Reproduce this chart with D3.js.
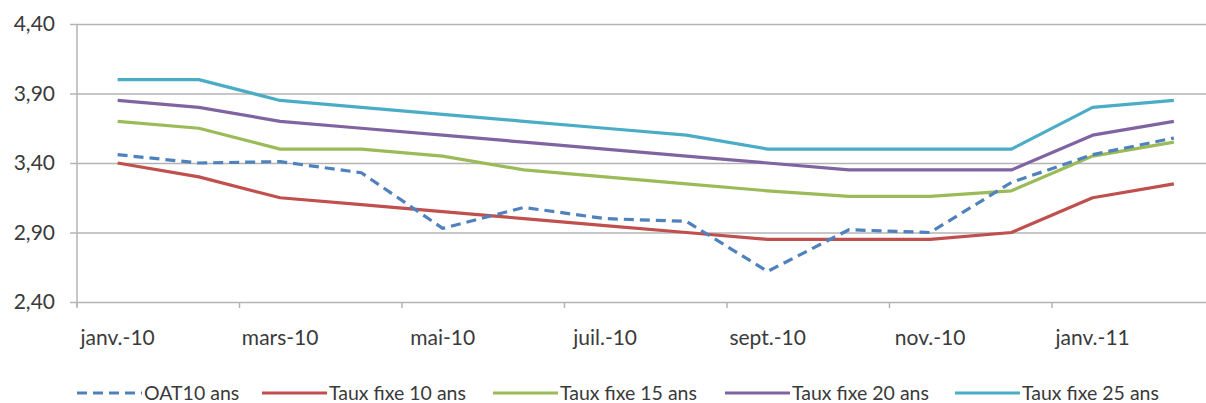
<!DOCTYPE html>
<html>
<head>
<meta charset="utf-8">
<style>
  html, body { margin: 0; padding: 0; background: #fff; }
  #chart { width: 1206px; height: 403px; overflow: hidden; }
  text { font-family: Lato, "Open Sans", sans-serif; fill: #3a3a3a; }
</style>
<script src="https://cdn.jsdelivr.net/npm/d3@7/dist/d3.min.js"></script>
</head>
<body>
<div id="chart"></div>
<script>
(function () {
  'use strict';

  // --- data ---------------------------------------------------------------
  const months = ['janv.-10', 'févr.-10', 'mars-10', 'avr.-10', 'mai-10', 'juin-10', 'juil.-10',
                  'août-10', 'sept.-10', 'oct.-10', 'nov.-10', 'déc.-10', 'janv.-11', 'févr.-11'];
  const yTicks = [2.4, 2.9, 3.4, 3.9, 4.4];

  const oat10   = [3.46, 3.40, 3.41, 3.33, 2.93, 3.08, 3.00, 2.98, 2.62, 2.92, 2.90, 3.26, 3.46, 3.58];
  const fixe10  = [3.40, 3.30, 3.15, 3.10, 3.05, 3.00, 2.95, 2.90, 2.85, 2.85, 2.85, 2.90, 3.15, 3.25];
  const fixe15  = [3.70, 3.65, 3.50, 3.50, 3.45, 3.35, 3.30, 3.25, 3.20, 3.16, 3.16, 3.20, 3.45, 3.55];
  const fixe20  = [3.85, 3.80, 3.70, 3.65, 3.60, 3.55, 3.50, 3.45, 3.40, 3.35, 3.35, 3.35, 3.60, 3.70];
  const fixe25  = [4.00, 4.00, 3.85, 3.80, 3.75, 3.70, 3.65, 3.60, 3.50, 3.50, 3.50, 3.50, 3.80, 3.85];

  const seriesNames = ['OAT10 ans', 'Taux fixe 10 ans', 'Taux fixe 15 ans', 'Taux fixe 20 ans', 'Taux fixe 25 ans'];

  const series = [
    { name: seriesNames[0], values: oat10,  color: '#4f81bd', dash: '10,6' },
    { name: seriesNames[1], values: fixe10, color: '#c0504d', dash: null },
    { name: seriesNames[2], values: fixe15, color: '#9bbb59', dash: null },
    { name: seriesNames[3], values: fixe20, color: '#8064a2', dash: null },
    { name: seriesNames[4], values: fixe25, color: '#4bacc6', dash: null }
  ];

  // --- layout -------------------------------------------------------------
  const W = 1206, H = 403;
  const left = 77, top = 24, bottom = 302;
  const bandW = 81.25;
  const gridColor = '#b4b4b4';
  const txtColor = '#3a3a3a';

  const svg = d3.select('#chart').append('svg')
    .attr('width', W).attr('height', H);

  const x = d3.scaleBand().domain(months).range([left, left + bandW * months.length]);
  const y = d3.scaleLinear().domain([2.4, 4.4]).range([bottom, top]);

  const fr = d3.formatLocale({ decimal: ',', thousands: ' ', grouping: [3], currency: ['', ' €'] });
  const fmt = fr.format('.2f');

  // grid horizontal + y axis
  svg.append('g')
    .attr('transform', `translate(${left},0)`)
    .call(d3.axisLeft(y).tickValues(yTicks).tickSize(-(x.range()[1] - left)).tickFormat(''))
    .call(sel => {
      sel.select('.domain').remove();
      sel.selectAll('line').attr('stroke', gridColor).attr('stroke-width', 1.5);
    });

  svg.append('g')
    .attr('transform', `translate(${left},0)`)
    .call(d3.axisLeft(y).tickValues(yTicks).tickSize(7).tickPadding(15).tickFormat(fmt))
    .call(sel => {
      sel.select('.domain').attr('stroke', gridColor).attr('stroke-width', 1.5)
        .attr('d', `M0,${top}V${bottom + 5}`);
      sel.selectAll('line').attr('stroke', gridColor).attr('stroke-width', 1.5);
      sel.selectAll('text').attr('fill', txtColor).style('font-size', '21px')
        .style('font-family', 'Lato, sans-serif');
    });

  // x axis: labels every other month, ticks on band edges
  const shown = months.filter((m, i) => i % 2 === 0);
  const xAxis = svg.append('g').attr('transform', `translate(0,${bottom})`);
  xAxis.call(d3.axisBottom(x).tickValues(shown).tickSize(0).tickPadding(28))
    .call(sel => {
      sel.select('.domain').remove();
      sel.selectAll('text').attr('fill', txtColor).style('font-size', '21px')
        .style('font-family', 'Lato, sans-serif');
    });
  xAxis.selectAll('line.edge')
    .data(shown)
    .enter().append('line')
    .attr('class', 'edge')
    .attr('x1', d => x(d)).attr('x2', d => x(d))
    .attr('y1', 0).attr('y2', 6)
    .attr('stroke', gridColor).attr('stroke-width', 1.5);

  // lines (OAT drawn last, on top)
  const line = d3.line()
    .x((d, i) => x(months[i]) + x.bandwidth() / 2)
    .y(d => y(d));

  const order = series.slice(1).concat(series[0]);
  svg.append('g').selectAll('path')
    .data(order)
    .enter().append('path')
    .attr('d', d => line(d.values))
    .attr('fill', 'none')
    .attr('stroke', d => d.color)
    .attr('stroke-width', 3.2)
    .attr('stroke-linejoin', 'round')
    .attr('stroke-dasharray', d => d.dash);

  // legend
  const legendX = [77, 262, 493, 725, 955];
  const lg = svg.append('g').attr('transform', 'translate(0,393)');
  const item = lg.selectAll('g').data(series).enter().append('g')
    .attr('transform', (d, i) => `translate(${legendX[i]},0)`);
  item.append('line')
    .attr('x1', 0).attr('x2', 65).attr('y1', 0).attr('y2', 0)
    .attr('stroke', d => d.color).attr('stroke-width', 3.2)
    .attr('stroke-dasharray', d => d.dash);
  item.append('text')
    .attr('x', 67).attr('y', 6.5)
    .style('font-size', '19.5px')
    .style('font-family', 'Lato, sans-serif')
    .attr('fill', txtColor)
    .text(d => d.name);
})();
</script>
</body>
</html>
